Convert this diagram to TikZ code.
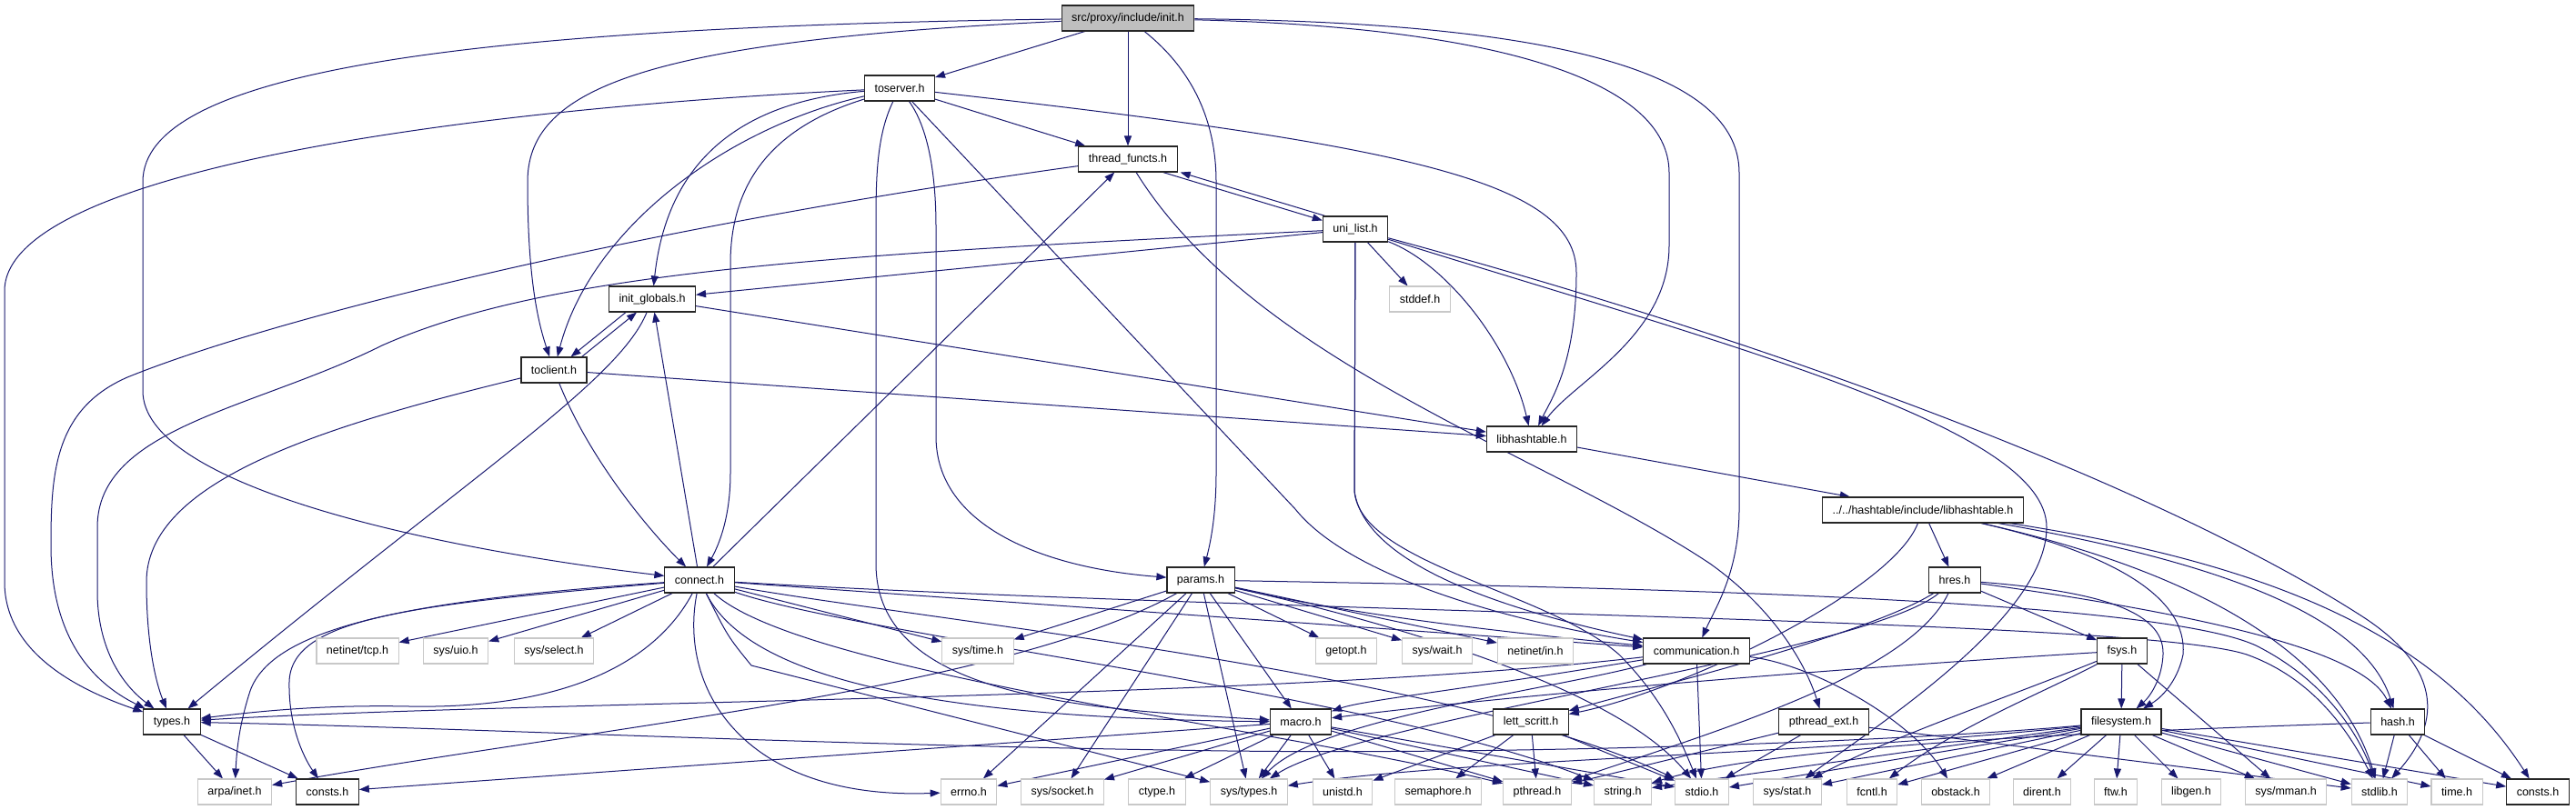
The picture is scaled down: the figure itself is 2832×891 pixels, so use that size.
\documentclass[tikz,border=0pt]{standalone}
\usepackage{fontspec}
\setmainfont{Liberation Sans}
\usetikzlibrary{arrows.meta}
\definecolor{edgec}{RGB}{25,25,112}
\definecolor{gfill}{RGB}{191,191,191}
\definecolor{lgrey}{RGB}{200,200,200}
\pgfdeclarelayer{background}
\pgfsetlayers{background,main}
\begin{document}
\begin{tikzpicture}[x=1pt,y=-1pt,
  box/.style={draw=black!85,line width=1.1pt,fill=white,rectangle,minimum height=28pt,inner xsep=11pt,inner ysep=0pt,font=\fontsize{12.5}{15}\selectfont},
  ext/.style={box,draw=lgrey,line width=1.1pt},
  lnk/.style={draw=edgec,line width=1pt,-{Triangle[length=11pt,width=8pt]}}]
\useasboundingbox (0,0) rectangle (2832,891);
% nodes
\node[box,fill=gfill] (init) at (1240,20) {src/proxy/include/init.h};
\node[box] (toserver) at (989,97) {toserver.h};
\node[box] (thread) at (1240,175) {thread\_functs.h};
\node[box] (uni) at (1490,252) {uni\_list.h};
\node[ext] (stddef) at (1561,329) {stddef.h};
\node[box] (initg) at (717,329) {init\_globals.h};
\node[box] (toclient) at (609,407) {toclient.h};
\node[box] (libht) at (1684,483) {libhashtable.h};
\node[box] (htlib) at (2114,561) {../../hashtable/include/libhashtable.h};
\node[box] (connect) at (769,638) {connect.h};
\node[box] (params) at (1320,638) {params.h};
\node[box] (hres) at (2149,638) {hres.h};
\node[ext] (nettcp) at (393,716) {netinet/tcp.h};
\node[ext] (sysuio) at (501,716) {sys/uio.h};
\node[ext] (syssel) at (609,716) {sys/select.h};
\node[ext] (systime) at (1075,716) {sys/time.h};
\node[ext] (getopt) at (1480,716) {getopt.h};
\node[ext] (syswait) at (1580,716) {sys/wait.h};
\node[ext] (netin) at (1688,716) {netinet/in.h};
\node[box] (comm) at (1865,716) {communication.h};
\node[box] (fsys) at (2333,716) {fsys.h};
\node[box] (types) at (189,794) {types.h};
\node[box] (macro) at (1430,794) {macro.h};
\node[box] (lett) at (1683,794) {lett\_scritt.h};
\node[box] (pthext) at (2005,794) {pthread\_ext.h};
\node[box] (filesys) at (2332,794) {filesystem.h};
\node[box] (hash) at (2636,794) {hash.h};
\node[ext] (arpa) at (258,871) {arpa/inet.h};
\node[box] (constsL) at (360,871) {consts.h};
\node[ext] (errno) at (1065,871) {errno.h};
\node[ext] (syssock) at (1168,871) {sys/socket.h};
\node[ext] (ctype) at (1272,871) {ctype.h};
\node[ext] (systypes) at (1373,871) {sys/types.h};
\node[ext] (unistd) at (1476,871) {unistd.h};
\node[ext] (sem) at (1581,871) {semaphore.h};
\node[ext] (pthread) at (1690,871) {pthread.h};
\node[ext] (string) at (1784,871) {string.h};
\node[ext] (stdio) at (1871,871) {stdio.h};
\node[ext] (sysstat) at (1965,871) {sys/stat.h};
\node[ext] (fcntl) at (2058,871) {fcntl.h};
\node[ext] (obstack) at (2150,871) {obstack.h};
\node[ext] (dirent) at (2245,871) {dirent.h};
\node[ext] (ftw) at (2326,871) {ftw.h};
\node[ext] (libgen) at (2409,871) {libgen.h};
\node[ext] (sysmman) at (2513,871) {sys/mman.h};
\node[ext] (stdlib) at (2616,871) {stdlib.h};
\node[ext] (time) at (2701,871) {time.h};
\node[box] (constsR) at (2790,871) {consts.h};
\begin{pgfonlayer}{background}
\fill[white] (0,0) rectangle (2832,891);
% init.h
\draw[lnk] (init) -- (toserver);
\draw[lnk] (init) -- (thread);
\draw[lnk] (init) .. controls (700,45) and (580,100) .. (580,200) .. controls (580,300) and (590,350) .. (toclient);
\draw[lnk] (init) .. controls (500,30) and (157,80) .. (157,200) -- (157,430) .. controls (157,530) and (450,600) .. (connect);
\draw[lnk] (init) .. controls (1290,60) and (1337,110) .. (1337,200) -- (1337,520) .. controls (1337,570) and (1330,600) .. (params);
\draw[lnk] (init) .. controls (1650,30) and (1835,90) .. (1835,190) -- (1835,270) .. controls (1835,370) and (1730,420) .. (libht);
\draw[lnk] (init) .. controls (1750,25) and (1912,90) .. (1912,190) -- (1912,560) .. controls (1912,630) and (1885,670) .. (comm);
% toserver.h
\draw[lnk] (toserver) -- (thread);
\draw[lnk] (toserver) .. controls (1550,160) and (1733,200) .. (1733,300) .. controls (1733,400) and (1705,440) .. (libht);
\draw[lnk] (toserver) .. controls (500,120) and (5,190) .. (5,320) -- (5,640) .. controls (5,720) and (90,760) .. (types);
\draw[lnk] (toserver) .. controls (800,140) and (650,250) .. (toclient);
\draw[lnk] (toserver) .. controls (780,115) and (730,210) .. (initg);
\draw[lnk] (toserver) .. controls (850,140) and (803,200) .. (803,290) -- (803,520) .. controls (803,570) and (790,600) .. (connect);
\draw[lnk] (toserver) .. controls (963,150) and (963,200) .. (963,250) -- (963,620) .. controls (963,770) and (1200,780) .. (macro);
\draw[lnk] (toserver) .. controls (1020,140) and (1029,190) .. (1029,250) -- (1029,480) .. controls (1029,580) and (1150,625) .. (params);
\draw[lnk] (toserver) -- (1424,560) .. controls (1480,630) and (1640,680) .. (comm);
% thread_functs.h / uni_list.h
\draw[lnk] ([xshift=-16pt]thread.south east) -- ([yshift=-5pt]uni.north west);
\draw[lnk] ([xshift=3pt]uni.north west) -- ([xshift=3pt]thread.south east);
\draw[lnk] (thread) .. controls (700,250) and (300,350) .. (140,415) .. controls (60,450) and (56,520) .. (56,600) .. controls (56,700) and (100,750) .. (types);
\draw[lnk] (thread) .. controls (1380,400) and (1700,500) .. (1880,620) .. controls (1950,670) and (1985,730) .. (pthext);
\draw[lnk] (uni) -- (stddef);
\draw[lnk] (uni) -- (initg);
\draw[lnk] (uni) .. controls (900,280) and (600,300) .. (420,380) .. controls (280,450) and (107,470) .. (107,580) -- (107,650) .. controls (107,730) and (150,765) .. (types);
\draw[lnk] (uni) .. controls (1590,290) and (1660,380) .. (libht);
\draw[lnk] (uni) -- (1489,540) .. controls (1500,620) and (1650,670) .. (comm);
\draw[lnk] (uni) -- (1489,540) .. controls (1495,620) and (1700,650) .. (1780,720) .. controls (1830,770) and (1850,820) .. (stdio);
\draw[lnk] (uni) .. controls (2000,390) and (2400,550) .. (2600,680) .. controls (2690,740) and (2680,800) .. (stdlib);
\draw[lnk] (uni) .. controls (1900,380) and (2250,470) .. (2250,580) .. controls (2250,680) and (2060,800) .. (sysstat);
% init_globals.h / toclient.h
\draw[lnk] ([xshift=-29pt]initg.south) -- ([xshift=-18pt]toclient.north east);
\draw[lnk] ([xshift=-6pt]toclient.north east) -- ([xshift=-17pt]initg.south);
\draw[lnk] (initg) -- (libht);
\draw[lnk] (initg) .. controls (680,420) and (520,520) .. (types);
\draw[lnk] (toclient) -- (libht);
\draw[lnk] (toclient) .. controls (350,470) and (161,530) .. (161,640) .. controls (161,720) and (175,760) .. (types);
\draw[lnk] (toclient) .. controls (650,510) and (720,590) .. (connect);
% connect.h
\draw[lnk] (connect) -- (initg);
\draw[lnk] (connect) -- (thread);
\draw[lnk] (connect) -- (nettcp);
\draw[lnk] (connect) -- (sysuio);
\draw[lnk] (connect) -- (syssel);
\draw[lnk] (connect) .. controls (720,730) and (620,780) .. (450,777) .. controls (350,775) and (280,783) .. (types);
\draw[lnk] (connect) .. controls (450,660) and (300,690) .. (275,760) .. controls (262,800) and (260,830) .. (arpa);
\draw[lnk] (connect) .. controls (450,665) and (320,680) .. (318,750) .. controls (317,800) and (335,835) .. (constsL);
\draw[lnk] (connect) .. controls (745,760) and (820,880) .. (errno);
\draw[lnk] (connect) -- (systime);
\draw[lnk] (connect) -- (comm);
\draw[lnk] (connect) .. controls (820,740) and (1000,790) .. (macro);
\draw[lnk] (connect) .. controls (800,700) .. (826,732) -- (systypes);
\draw[lnk] (connect) .. controls (880,740) and (1400,800) .. (pthread);
\draw[lnk] (connect) .. controls (950,700) and (1500,760) .. (string);
\draw[lnk] (connect) .. controls (1000,680) and (1600,740) .. (stdio);
\draw[lnk] (connect) .. controls (1400,675) and (2350,680) .. (2470,720) .. controls (2540,745) and (2580,800) .. (stdlib);
% libhashtable.h
\draw[lnk] (libht) -- (htlib);
% params.h
\draw[lnk] (params) -- (systime);
\draw[lnk] (params) -- (getopt);
\draw[lnk] (params) -- (syswait);
\draw[lnk] (params) -- (netin);
\draw[lnk] (params) .. controls (1500,680) and (1700,700) .. (comm);
\draw[lnk] (params) -- (errno);
\draw[lnk] (params) -- (syssock);
\draw[lnk] (params) -- (systypes);
\draw[lnk] (params) -- (macro);
\draw[lnk] (params) .. controls (1100,760) and (650,800) .. (arpa);
\draw[lnk] (params) .. controls (1700,645) and (2360,655) .. (2480,710) .. controls (2550,745) and (2590,800) .. (stdlib);
\draw[lnk] (params) .. controls (1550,690) and (1780,760) .. (stdio);
% communication.h
\draw[lnk] (comm) .. controls (1600,760) and (1500,770) .. (macro);
\draw[lnk] (comm) .. controls (1400,770) and (600,770) .. (types);
\draw[lnk] (comm) -- (stdio);
\draw[lnk] (comm) .. controls (1700,760) and (1450,790) .. (systypes);
\draw[lnk] (comm) .. controls (1990,730) and (2100,790) .. (obstack);
% macro.h
\draw[lnk] (macro) -- (errno);
\draw[lnk] (macro) -- (syssock);
\draw[lnk] (macro) -- (ctype);
\draw[lnk] (macro) -- (systypes);
\draw[lnk] (macro) -- (unistd);
\draw[lnk] (macro) -- (constsL);
\draw[lnk] (macro) -- (pthread);
\draw[lnk] (macro) -- (string);
\draw[lnk] (macro) -- (stdio);
% lett_scritt.h
\draw[lnk] (lett) -- (unistd);
\draw[lnk] (lett) -- (sem);
\draw[lnk] (lett) -- (pthread);
\draw[lnk] (lett) -- (stdio);
% pthread_ext.h
\draw[lnk] (pthext) -- (pthread);
\draw[lnk] (pthext) -- (stdio);
\draw[lnk] (pthext) -- (stdlib);
% hres.h
\draw[lnk] (hres) -- (fsys);
\draw[lnk] (hres) .. controls (2300,650) and (2380,670) .. (2378,720) .. controls (2377,745) and (2365,765) .. (filesys);
\draw[lnk] (hres) .. controls (2450,680) and (2600,720) .. (hash);
\draw[lnk] (hres) .. controls (2050,700) and (1800,760) .. (lett);
\draw[lnk] (hres) .. controls (2050,720) and (1500,790) .. (systypes);
\draw[lnk] (hres) .. controls (2100,740) and (1900,800) .. (pthread);
% hashtable/include/libhashtable.h
\draw[lnk] (htlib) -- (hres);
\draw[lnk] (htlib) .. controls (2330,610) and (2405,660) .. (2400,720) .. controls (2395,745) and (2380,765) .. (filesys);
\draw[lnk] (htlib) .. controls (2450,620) and (2600,680) .. (hash);
\draw[lnk] (htlib) .. controls (2500,620) and (2680,700) .. (constsR);
\draw[lnk] (htlib) .. controls (2420,630) and (2570,720) .. (stdlib);
\draw[lnk] (htlib) .. controls (2080,650) and (1850,760) .. (lett);
% fsys.h
\draw[lnk] (fsys) -- (filesys);
\draw[lnk] (fsys) .. controls (2100,730) and (1700,760) .. (macro);
\draw[lnk] (fsys) -- (sysmman);
\draw[lnk] (fsys) .. controls (2250,760) and (2150,800) .. (fcntl);
\draw[lnk] (fsys) .. controls (2200,770) and (2080,810) .. (sysstat);
% filesystem.h
\draw[lnk] (filesys) .. controls (2100,815) and (1700,830) .. (1350,826) .. controls (900,820) and (500,800) .. (types);
\draw[lnk] (filesys) .. controls (2000,830) and (1600,835) .. (systypes);
\draw[lnk] (filesys) -- (string);
\draw[lnk] (filesys) -- (stdio);
\draw[lnk] (filesys) -- (sysstat);
\draw[lnk] (filesys) -- (fcntl);
\draw[lnk] (filesys) -- (obstack);
\draw[lnk] (filesys) -- (dirent);
\draw[lnk] (filesys) -- (ftw);
\draw[lnk] (filesys) -- (libgen);
\draw[lnk] (filesys) -- (sysmman);
\draw[lnk] (filesys) -- (stdlib);
\draw[lnk] (filesys) -- (time);
\draw[lnk] (filesys) -- (constsR);
% hash.h
\draw[lnk] (hash) -- (stdlib);
\draw[lnk] (hash) -- (time);
\draw[lnk] (hash) -- (constsR);
\draw[lnk] (hash) .. controls (2300,805) and (1950,820) .. (string);
% types.h
\draw[lnk] (types) -- (arpa);
\draw[lnk] (types) -- (constsL);
\end{pgfonlayer}
\end{tikzpicture}
\end{document}
